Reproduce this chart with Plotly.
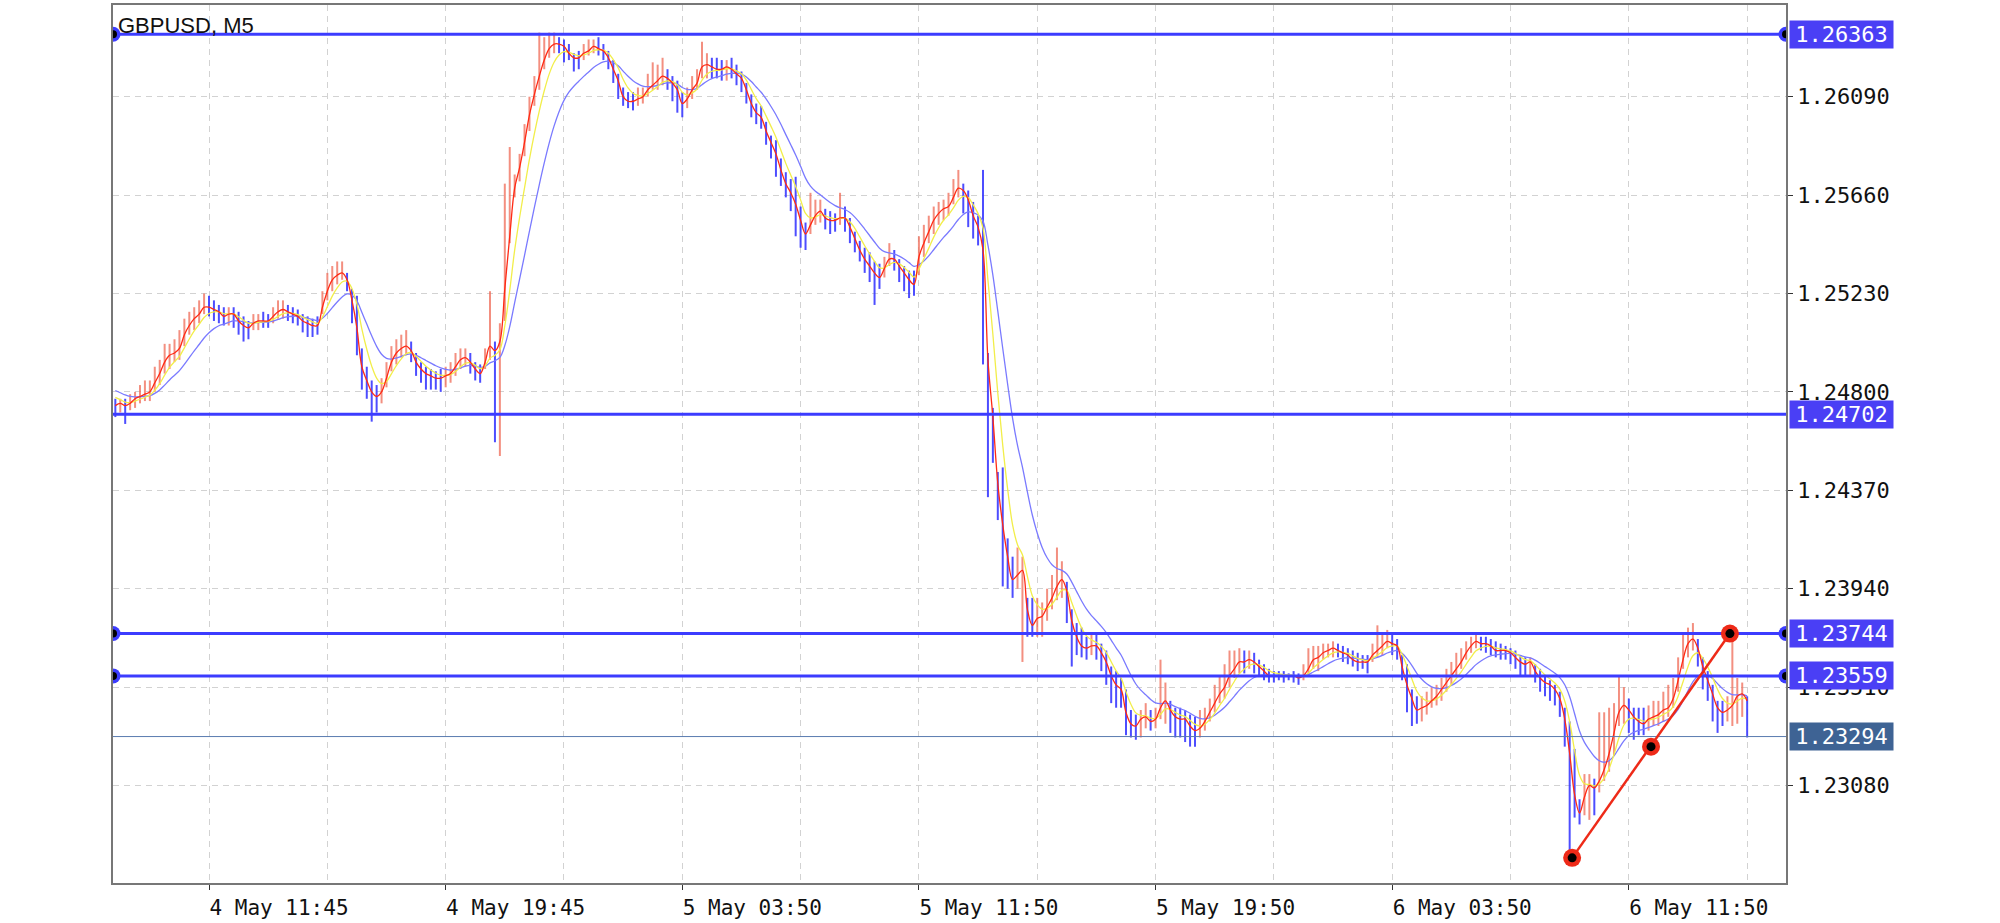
import plotly.graph_objects as go

# ---------------- data ----------------
symbol_title = "GBPUSD, M5"
first_bar = -38          # bar index of the first sample (0 = 4 May 11:45)
bar_step = 2             # M5 bars per sample
pip = 0.0001

# close path (fast MA) every 2 bars
close = [
    1.2474, 1.2475, 1.2474, 1.2475, 1.2477, 1.2478, 1.2479, 1.2480, 1.2484, 1.2488,   # -38
    1.2493, 1.2496, 1.2497, 1.2499, 1.2505, 1.2509, 1.2512, 1.2514, 1.2517, 1.2517,   # -18
    1.2516, 1.2515, 1.2513, 1.2514, 1.2514, 1.2511, 1.2509, 1.2508, 1.2510, 1.2511,   # 2
    1.2511, 1.2511, 1.2513, 1.2515, 1.2516, 1.2515, 1.2514, 1.2513, 1.2511, 1.2510,   # 22
    1.2509, 1.2509, 1.2517, 1.2524, 1.2529, 1.2531, 1.2532, 1.2529, 1.2520, 1.2508,   # 42
    1.2491, 1.2485, 1.2480, 1.2478, 1.2480, 1.2486, 1.2493, 1.2497, 1.2499, 1.2500,   # 62
    1.2498, 1.2493, 1.2490, 1.2488, 1.2487, 1.2486, 1.2486, 1.2487, 1.2488, 1.2491,   # 82
    1.2494, 1.2495, 1.2493, 1.2490, 1.2488, 1.2493, 1.2500, 1.2498, 1.2502, 1.2525,   # 102
    1.2548, 1.2569, 1.2578, 1.2589, 1.2601, 1.2610, 1.2618, 1.2625, 1.2630, 1.2632,   # 122
    1.2632, 1.2631, 1.2628, 1.2626, 1.2626, 1.2628, 1.2629, 1.2631, 1.2630, 1.2629,   # 142
    1.2626, 1.2621, 1.2616, 1.2609, 1.2607, 1.2607, 1.2608, 1.2609, 1.2612, 1.2614,   # 162
    1.2616, 1.2618, 1.2617, 1.2615, 1.2612, 1.2606, 1.2608, 1.2612, 1.2615, 1.2622,   # 182
    1.2623, 1.2622, 1.2621, 1.2621, 1.2622, 1.2621, 1.2619, 1.2617, 1.2612, 1.2606,   # 202
    1.2602, 1.2600, 1.2594, 1.2589, 1.2584, 1.2577, 1.2571, 1.2567, 1.2562, 1.2555,   # 222
    1.2549, 1.2553, 1.2557, 1.2559, 1.2556, 1.2555, 1.2555, 1.2556, 1.2556, 1.2552,   # 242
    1.2547, 1.2542, 1.2538, 1.2535, 1.2532, 1.2530, 1.2534, 1.2538, 1.2538, 1.2535,   # 262
    1.2532, 1.2529, 1.2527, 1.2539, 1.2545, 1.2550, 1.2555, 1.2558, 1.2560, 1.2561,   # 282
    1.2565, 1.2569, 1.2568, 1.2564, 1.2557, 1.2552, 1.2542, 1.2494, 1.2469, 1.2440,   # 302
    1.2422, 1.2408, 1.2398, 1.2400, 1.2402, 1.2385, 1.2378, 1.2381, 1.2382, 1.2386,   # 322
    1.2390, 1.2395, 1.2398, 1.2393, 1.2380, 1.2373, 1.2369, 1.2368, 1.2369, 1.2369,   # 342
    1.2366, 1.2362, 1.2356, 1.2352, 1.2350, 1.2340, 1.2335, 1.2334, 1.2337, 1.2338,   # 362
    1.2336, 1.2337, 1.2342, 1.2345, 1.2341, 1.2338, 1.2337, 1.2337, 1.2334, 1.2332,   # 382
    1.2333, 1.2336, 1.2340, 1.2344, 1.2348, 1.2351, 1.2356, 1.2359, 1.2362, 1.2362,   # 402
    1.2363, 1.2362, 1.2360, 1.2358, 1.2356, 1.2356, 1.2356, 1.2356, 1.2356, 1.2356,   # 422
    1.2355, 1.2356, 1.2359, 1.2363, 1.2364, 1.2366, 1.2367, 1.2368, 1.2367, 1.2366,   # 442
    1.2365, 1.2363, 1.2362, 1.2362, 1.2362, 1.2365, 1.2367, 1.2369, 1.2371, 1.2370,   # 462
    1.2369, 1.2360, 1.2352, 1.2346, 1.2341, 1.2342, 1.2343, 1.2345, 1.2347, 1.2350,   # 482
    1.2353, 1.2356, 1.2359, 1.2362, 1.2366, 1.2369, 1.2371, 1.2370, 1.2370, 1.2369,   # 502
    1.2367, 1.2367, 1.2367, 1.2366, 1.2364, 1.2362, 1.2361, 1.2362, 1.2358, 1.2355,   # 522
    1.2353, 1.2352, 1.2350, 1.2346, 1.2337, 1.2322, 1.2304, 1.2296, 1.2303, 1.2308,   # 542
    1.2307, 1.2310, 1.2315, 1.2322, 1.2331, 1.2340, 1.2343, 1.2341, 1.2338, 1.2336,   # 562
    1.2335, 1.2337, 1.2338, 1.2339, 1.2341, 1.2342, 1.2346, 1.2354, 1.2363, 1.2370,   # 582
    1.2372, 1.2368, 1.2360, 1.2354, 1.2348, 1.2342, 1.2340, 1.2341, 1.2343, 1.2347,   # 602
    1.2348, 1.2345,                                                                   # 622
]

# bar extent above / below the close, in pips
up_pips = [
    3, 2, 3, 4, 3, 5, 6, 5, 7, 6,
    8, 5, 6, 8, 7, 6, 5, 6, 6, 5,
    4, 3, 4, 3, 3, 4, 4, 3, 4, 3,
    4, 3, 4, 5, 4, 3, 3, 3, 3, 3,
    3, 4, 7, 8, 6, 6, 5, 3, 5, 14,
    8, 6, 5, 5, 6, 7, 7, 6, 6, 7,
    4, 4, 3, 3, 3, 3, 4, 4, 5, 6,
    5, 4, 4, 3, 4, 6, 24, 4, 8, 46,
    39, 6, 6, 8, 8, 8, 19, 10, 7, 5,
    3, 3, 4, 2, 3, 4, 5, 3, 5, 3,
    3, 4, 3, 4, 4, 4, 5, 4, 7, 10,
    7, 8, 4, 3, 4, 5, 5, 6, 6, 11,
    5, 4, 5, 4, 3, 5, 4, 3, 3, 4,
    4, 5, 4, 3, 6, 5, 5, 6, 12, 6,
    5, 14, 7, 5, 4, 4, 3, 11, 5, 4,
    3, 4, 5, 6, 5, 6, 5, 7, 4, 3,
    3, 4, 6, 9, 8, 7, 6, 5, 4, 6,
    8, 8, 3, 4, 6, 5, 35, 3, 4, 5,
    25, 8, 10, 12, 6, 5, 12, 9, 6, 8,
    10, 17, 8, 4, 5, 6, 8, 5, 6, 5,
    4, 5, 4, 6, 5, 10, 6, 5, 4, 6,
    5, 5, 21, 8, 4, 4, 5, 4, 5, 6,
    8, 6, 6, 8, 8, 10, 11, 8, 6, 5,
    4, 4, 3, 3, 3, 2, 2, 2, 1, 2,
    2, 5, 9, 6, 5, 4, 3, 3, 3, 3,
    3, 4, 4, 3, 3, 5, 11, 5, 5, 4,
    3, 5, 9, 4, 6, 5, 6, 6, 5, 5,
    6, 6, 7, 6, 5, 4, 3, 3, 3, 3,
    4, 3, 2, 2, 3, 3, 3, 2, 3, 4,
    3, 2, 2, 3, 5, 14, 20, 6, 10, 5,
    4, 30, 25, 20, 13, 16, 8, 5, 4, 6,
    7, 6, 7, 6, 8, 10, 9, 10, 11, 7,
    7, 4, 4, 4, 4, 3, 5, 6, 32, 8,
    5, 2,
]
dn_pips = [
    5, 4, 8, 3, 4, 3, 3, 4, 4, 5,
    5, 6, 4, 5, 5, 4, 5, 4, 3, 4,
    5, 5, 4, 5, 6, 6, 7, 5, 3, 4,
    3, 3, 3, 3, 4, 4, 4, 4, 5, 6,
    5, 4, 3, 4, 5, 4, 3, 5, 10, 12,
    10, 8, 13, 7, 5, 4, 4, 5, 4, 4,
    5, 6, 6, 7, 6, 5, 6, 5, 4, 4,
    4, 4, 5, 5, 4, 3, 6, 40, 50, 14,
    3, 4, 6, 6, 7, 5, 6, 4, 4, 4,
    4, 7, 3, 6, 5, 3, 2, 3, 3, 4,
    5, 6, 8, 4, 3, 4, 3, 3, 3, 2,
    4, 4, 5, 8, 10, 6, 4, 4, 3, 5,
    6, 5, 4, 5, 6, 4, 5, 6, 6, 6,
    5, 5, 6, 7, 10, 7, 6, 8, 14, 12,
    7, 4, 4, 5, 5, 6, 5, 3, 6, 7,
    6, 5, 6, 7, 14, 5, 4, 3, 5, 7,
    8, 8, 5, 8, 6, 5, 6, 5, 5, 4,
    3, 4, 10, 12, 10, 8, 50, 60, 20, 16,
    27, 14, 8, 6, 40, 12, 5, 8, 9, 6,
    5, 6, 8, 14, 20, 8, 5, 5, 4, 6,
    8, 10, 12, 10, 8, 10, 6, 6, 8, 5,
    4, 4, 5, 10, 10, 9, 8, 10, 9, 7,
    4, 4, 4, 4, 4, 5, 5, 4, 5, 5,
    4, 5, 4, 4, 3, 3, 2, 3, 2, 3,
    3, 2, 3, 4, 6, 3, 3, 4, 3, 4,
    4, 3, 4, 3, 5, 3, 3, 4, 3, 5,
    6, 6, 12, 12, 6, 6, 4, 3, 4, 5,
    4, 4, 3, 3, 3, 3, 3, 3, 4, 4,
    3, 4, 4, 5, 5, 6, 5, 6, 5, 6,
    6, 7, 7, 8, 12, 45, 10, 5, 8, 15,
    12, 5, 5, 8, 10, 6, 8, 10, 10, 6,
    5, 5, 4, 5, 5, 4, 4, 5, 4, 6,
    5, 8, 10, 9, 12, 11, 6, 5, 9, 12,
    10, 16,
]

# moving-average settings and their values at the left edge
ma_mid_period, ma_slow_period = 8, 21
ma_mid_start, ma_slow_start = 1.2480, 1.2482

# time axis
tick_bars = [0, 96, 192, 288, 384, 480, 576]
tick_labels = ["4 May 11:45", "4 May 19:45", "5 May 03:50", "5 May 11:50",
               "5 May 19:50", "6 May 03:50", "6 May 11:50"]
minor_grid_bars = [48, 144, 240, 336, 432, 528, 624]
x_view = [-38.95, 639.76]

# price axis
price_view = [1.226541, 1.264906]
price_tick0, price_dtick = 1.23080, 0.0043

# drawn objects
level_prices = [1.26363, 1.24702, 1.23744, 1.23559]
level_anchored = [True, False, True, True]
bid_price = 1.23294
trend_bars = [553, 585, 617]
trend_prices = [1.22764, 1.23250, 1.23744]

# ---------------- build ----------------
n = min(len(close), len(up_pips), len(dn_pips))
close = close[:n]
bar_index = [first_bar + bar_step * k for k in range(n)]
highs = [close[k] + up_pips[k] * pip for k in range(n)]
lows = [close[k] - dn_pips[k] * pip for k in range(n)]


def ema(values, period, start):
    a_bar = 2.0 / (period + 1)
    a = 1 - (1 - a_bar) ** bar_step
    out, cur = [], start
    for v in values:
        cur = cur + a * (v - cur)
        out.append(cur)
    return out


ma_mid = ema(close, ma_mid_period, ma_mid_start)
ma_slow = ema(close, ma_slow_period, ma_slow_start)

bx_up, by_up, bx_dn, by_dn = [], [], [], []
for k in range(n):
    rising = k > 0 and close[k] > close[k - 1]
    if rising:
        bx_up += [bar_index[k], bar_index[k], None]
        by_up += [lows[k], highs[k], None]
    else:
        bx_dn += [bar_index[k], bar_index[k], None]
        by_dn += [lows[k], highs[k], None]

fig = go.Figure()
fig.add_trace(go.Scatter(x=bx_up, y=by_up, mode="lines", hoverinfo="skip",
                         line=dict(color="rgba(240,112,92,0.78)", width=2)))
fig.add_trace(go.Scatter(x=bx_dn, y=by_dn, mode="lines", hoverinfo="skip",
                         line=dict(color="rgba(52,52,255,0.88)", width=2)))
fig.add_trace(go.Scatter(x=bar_index, y=ma_slow, mode="lines",
                         line=dict(color="#7a7aff", width=1.3, shape="spline")))
fig.add_trace(go.Scatter(x=bar_index, y=ma_mid, mode="lines",
                         line=dict(color="#f2ee4a", width=1.3, shape="spline")))
fig.add_trace(go.Scatter(x=bar_index, y=close, mode="lines",
                         line=dict(color="#ff2a14", width=1.3, shape="spline")))

level_blue = "#3c3cff"
# bid line
fig.add_trace(go.Scatter(x=x_view, y=[bid_price, bid_price], mode="lines",
                         line=dict(color="#5a7bb0", width=1)))
for p, anch in zip(level_prices, level_anchored):
    fig.add_trace(go.Scatter(x=x_view, y=[p, p], mode="lines",
                             line=dict(color=level_blue, width=3)))
    if anch:
        fig.add_trace(go.Scatter(x=x_view, y=[p, p], mode="markers",
                                 marker=dict(size=15, color=level_blue)))
        fig.add_trace(go.Scatter(x=x_view, y=[p, p], mode="markers",
                                 marker=dict(size=8, color="black")))

# trend line with its three anchors
fig.add_trace(go.Scatter(x=[trend_bars[0], trend_bars[-1]],
                         y=[trend_prices[0], trend_prices[-1]], mode="lines",
                         line=dict(color="#ee2a18", width=2.5)))
fig.add_trace(go.Scatter(x=trend_bars, y=trend_prices, mode="markers",
                         marker=dict(size=18, color="#ee2a18")))
fig.add_trace(go.Scatter(x=trend_bars, y=trend_prices, mode="markers",
                         marker=dict(size=9, color="black")))

grid_col = "#d2d2d2"
mono = "DejaVu Sans Mono"
fig.update_layout(
    width=2000, height=923,
    margin=dict(l=113, r=214, t=5, b=40, autoexpand=False),
    plot_bgcolor="white", paper_bgcolor="white",
    showlegend=False,
)
fig.update_xaxes(
    range=x_view, tickmode="array", tickvals=tick_bars, ticktext=tick_labels,
    ticks="outside", ticklen=5, tickcolor="#333333", automargin=False,
    showgrid=True, gridcolor=grid_col, griddash="6px,5px", gridwidth=1,
    minor=dict(tickvals=minor_grid_bars, showgrid=True, gridcolor=grid_col,
               griddash="6px,5px", gridwidth=1, ticks=""),
    showline=True, linecolor="#777777", linewidth=2, mirror=True, zeroline=False,
    tickfont=dict(family=mono, size=21, color="#111111"), ticklabelshift=70,
)
fig.update_yaxes(
    range=price_view, side="right", tickmode="linear", tick0=price_tick0,
    dtick=price_dtick, tickformat=".5f", automargin=False,
    ticks="outside", ticklen=5, tickcolor="#333333",
    showgrid=True, gridcolor=grid_col, griddash="6px,5px", gridwidth=1,
    showline=True, linecolor="#777777", linewidth=1.5, mirror=True, zeroline=False,
    tickfont=dict(family=mono, size=22, color="#111111"),
)

# title inside the plot
fig.add_annotation(text=symbol_title, xref="paper", yref="paper", x=0, y=1,
                   xanchor="left", yanchor="top", xshift=3, yshift=-6,
                   showarrow=False,
                   font=dict(family="Liberation Sans, Arial", size=22, color="#111111"))

# price labels on the right scale
for p in level_prices + [bid_price]:
    bg = "#3e6394" if p == bid_price else "#4a3ff5"
    fig.add_annotation(text=f"{p:.5f}", xref="paper", yref="y", x=1, y=p,
                       xanchor="left", yanchor="middle", xshift=3, showarrow=False,
                       bgcolor=bg, borderpad=1, width=101, height=25, align="center",
                       font=dict(family=mono, size=22, color="white"))

fig.write_html("out.html", config={"displayModeBar": False},
               post_script="document.body.style.margin='0px';")
